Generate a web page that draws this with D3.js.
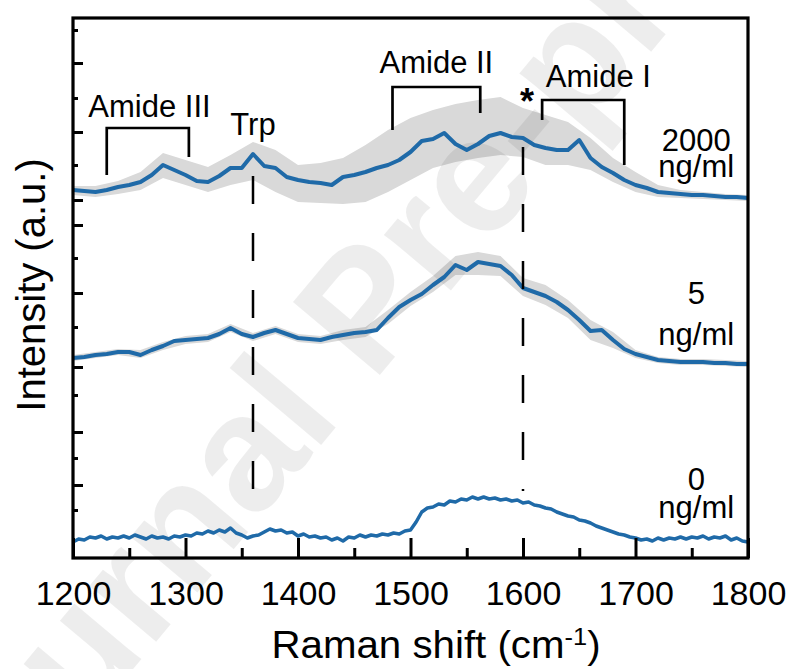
<!DOCTYPE html>
<html>
<head>
<meta charset="utf-8">
<script src="https://cdn.jsdelivr.net/npm/d3@7"></script>
<style>
  html, body { margin: 0; padding: 0; background: #fff; }
  svg { display: block; font-family: "Liberation Sans", Arial, sans-serif; }
</style>
</head>
<body>
<svg id="chart"></svg>
<script>
// sampling grids (cm-1)
var shift10 = d3.range(1200, 1801, 10);
var shift5 = d3.range(1200, 1801, 5);
var shift20 = d3.range(1200, 1801, 20);

// mean spectra, stacked, arbitrary units
var spec2000 = [368,367,366,368,371,373,376,383,393,388,
                383,377,376,382,390,390,404,392,390,381,
                378,376,375,373,381,383,386,390,393,398,
                406,417,419,425,414,408,414,422,425,421,
                420,413,410,408,408,418,400,391,385,378,
                373,370,366,365,364,363,363,362,361,361,
                360];
var spec5 = [200,201,203,204,206,206,203,208,212,217,
             218,219,220,224,230,224,221,225,228,224,
             220,219,218,221,223,225,226,228,240,251,
             258,264,273,281,293,288,296,294,292,283,
             270,266,262,256,248,238,227,228,218,209,
             204,201,198,197,196,196,196,195,195,194,
             194];
var spec0 = [16,19,18,21,20,22,19,21,20,22,
             20,23,21,19,22,20,21,19,22,21,
             23,22,25,24,27,25,28,26,30,25,
             23,20,22,23,26,29,27,28,25,26,
             22,24,21,22,20,21,18,20,17,21,
             20,23,21,23,22,24,23,25,24,27,
             28,36,46,50,51,54,53,57,56,59,
             58,61,59,61,59,60,58,59,57,58,
             55,56,53,52,50,49,46,44,42,41,
             38,37,35,32,30,28,26,24,23,21,
             20,18,19,17,20,18,20,19,21,19,
             21,20,22,19,21,20,22,18,20,17,
             16];

// spread (upper / lower edge of grey band), 20 cm-1 steps
var band2000Hi = [372,372,377,386,405,398,391,403,416,408,393,395,400,413,428,440,448,454,458,461,450,443,436,420,400,386,373,368,366,364,363];
var band2000Lo = [363,361,364,368,380,373,366,373,378,366,356,355,354,356,366,378,390,396,400,403,401,393,393,388,376,366,361,360,359,358,357];
var band5Hi = [203,206,209,208,216,222,224,234,225,232,224,222,228,231,248,266,282,302,306,302,280,273,258,238,226,208,201,199,199,198,197];
var band5Lo = [197,200,203,200,208,214,216,226,217,224,216,214,218,221,234,252,266,283,283,282,262,253,240,218,210,200,195,193,193,192,191];

// axis ticks
var xTicks = [1200,1300,1400,1500,1600,1700,1800];
var xMinor = [1250,1350,1450,1550,1650,1750];
var yTicksLong = [495,426,358,333,265,191,126,73];
var yTicksShort = [528,460,393,300,231,163,100,48];

// band assignments
var brackets = [
  {label: "Amide III", from: 1230, to: 1303, top: 430, left: 383, right: 401, tx: 1268, ty: 441},
  {label: "Amide II",  from: 1484, to: 1562, top: 471, left: 428, right: 445, tx: 1523, ty: 485},
  {label: "Amide I",   from: 1617, to: 1690, top: 458, left: 438, right: 393, tx: 1667, ty: 471}
];
var markers = [
  {shift: 1360, from: 382, to: 40, label: "Trp", ty: 423},
  {shift: 1600, from: 411, to: 67, label: "*", ty: 444}
];
var concLabels = [
  {conc: "2000", y: 407, unitY: 381},
  {conc: "5", y: 254, unitY: 213},
  {conc: "0", y: 68, unitY: 40}
];

var W = 798, H = 669;
var margin = {top: 18, right: 50, bottom: 111, left: 73},
    width = W - margin.left - margin.right,
    height = H - margin.top - margin.bottom;

var svg = d3.select("#chart").attr("width", W).attr("height", H);

var x = d3.scaleLinear().domain([1200, 1800]).range([margin.left, margin.left + width]);
var y = d3.scaleLinear().domain([0, 540]).range([margin.top + height, margin.top]);

// grey spread bands
var area = d3.area()
  .x(function (d) { return x(d.w); })
  .y0(function (d) { return y(d.lo); })
  .y1(function (d) { return y(d.hi); });

[[band2000Hi, band2000Lo], [band5Hi, band5Lo]].forEach(function (b) {
  var pts = shift20.map(function (w, i) { return {w: w, hi: b[0][i], lo: b[1][i]}; });
  svg.append("path").datum(pts)
    .attr("d", area)
    .attr("fill", "#d9d9d9");
});

// watermark
svg.append("text")
  .attr("transform", "translate(405,345) rotate(-50)")
  .attr("text-anchor", "middle")
  .style("font-size", "165px")
  .style("font-weight", "bold")
  .attr("fill", "#000")
  .attr("fill-opacity", 0.07)
  .text("Journal Pre-proof");

// spectra
var line = d3.line()
  .x(function (d) { return x(d.w); })
  .y(function (d) { return y(d.v); });

[[shift10, spec2000, 4], [shift10, spec5, 4], [shift5, spec0, 3.5]].forEach(function (s) {
  var pts = s[0].map(function (w, i) { return {w: w, v: s[1][i]}; });
  svg.append("path").datum(pts)
    .attr("d", line)
    .attr("fill", "none")
    .attr("stroke", "#1f6aa8")
    .attr("stroke-width", s[2])
    .attr("stroke-linejoin", "round");
});

// dashed marker lines
markers.forEach(function (m) {
  svg.append("line")
    .attr("x1", x(m.shift)).attr("x2", x(m.shift))
    .attr("y1", y(m.from)).attr("y2", y(m.to))
    .attr("stroke", "#000").attr("stroke-width", 2.5)
    .attr("stroke-dasharray", "28,29");
});

// brackets
brackets.forEach(function (b) {
  svg.append("path")
    .attr("d", "M" + x(b.from) + "," + y(b.left) + "V" + y(b.top) + "H" + x(b.to) + "V" + y(b.right))
    .attr("fill", "none").attr("stroke", "#000").attr("stroke-width", 2.7);
  svg.append("text")
    .attr("x", x(b.tx)).attr("y", y(b.ty))
    .attr("text-anchor", "middle")
    .style("font-size", "31px")
    .text(b.label);
});

svg.append("text")
  .attr("x", x(markers[0].shift)).attr("y", y(markers[0].ty))
  .attr("text-anchor", "middle").style("font-size", "31px")
  .text(markers[0].label);
svg.append("text")
  .attr("x", x(markers[1].shift) + 4).attr("y", y(markers[1].ty))
  .attr("text-anchor", "middle").style("font-size", "36px").style("font-weight", "bold")
  .text(markers[1].label);

// concentration labels
concLabels.forEach(function (c) {
  svg.append("text")
    .attr("x", x(1754)).attr("y", y(c.y))
    .attr("text-anchor", "middle").style("font-size", "31px")
    .text(c.conc);
  svg.append("text")
    .attr("x", x(1754)).attr("y", y(c.unitY))
    .attr("text-anchor", "middle").style("font-size", "31px")
    .text("ng/ml");
});

// axes (inward ticks)
var gx = svg.append("g").attr("transform", "translate(0," + (margin.top + height) + ")");
gx.call(d3.axisBottom(x).tickValues(xTicks).tickSize(-20).tickPadding(0).tickFormat(d3.format("d")));
gx.selectAll(".tick text").attr("y", 47).attr("dy", 0)
  .style("font-size", "34px").style("font-family", "Liberation Sans, Arial, sans-serif")
  .attr("fill", "#000");
var gxm = svg.append("g").attr("transform", "translate(0," + (margin.top + height) + ")");
gxm.call(d3.axisBottom(x).tickValues(xMinor).tickSize(-10).tickFormat(""));

var gy = svg.append("g").attr("transform", "translate(" + margin.left + ",0)");
gy.call(d3.axisLeft(y).tickValues(yTicksLong).tickSize(-10).tickFormat(""));
var gym = svg.append("g").attr("transform", "translate(" + margin.left + ",0)");
gym.call(d3.axisLeft(y).tickValues(yTicksShort).tickSize(-5).tickFormat(""));

svg.selectAll(".tick line").attr("stroke", "#000").attr("stroke-width", 3);
svg.selectAll(".domain").remove();

// frame
svg.append("rect")
  .attr("x", margin.left).attr("y", margin.top)
  .attr("width", width).attr("height", height)
  .attr("fill", "none").attr("stroke", "#000").attr("stroke-width", 3.2);

// axis titles
var xt = svg.append("text")
  .attr("transform", "translate(436,658) scale(1.06,1)")
  .attr("text-anchor", "middle")
  .style("font-size", "38px");
xt.append("tspan").text("Raman shift (cm");
xt.append("tspan").attr("baseline-shift", "super").style("font-size", "24px").text("-1");
xt.append("tspan").text(")");

svg.append("text")
  .attr("transform", "translate(45,285) rotate(-90)")
  .attr("text-anchor", "middle")
  .style("font-size", "40px")
  .text("Intensity (a.u.)");
</script>
</body>
</html>
